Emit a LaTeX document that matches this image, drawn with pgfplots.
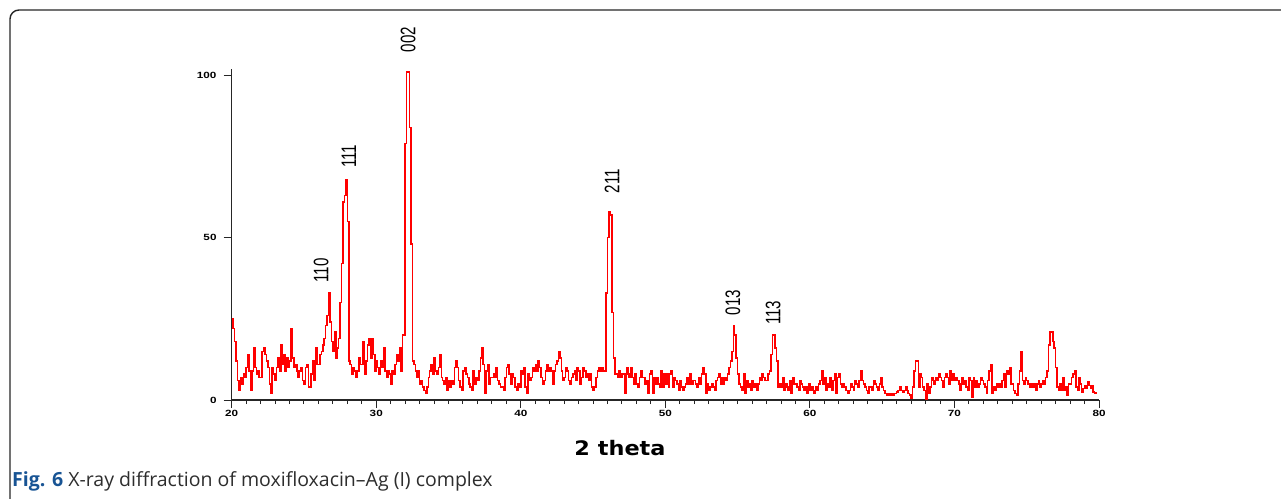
\documentclass[border=0pt]{standalone}
\usepackage{fontspec}
\usepackage{pgfplots}
\pgfplotsset{compat=1.18}
\newfontfamily\lsans{Liberation Sans}
\newfontfamily\osans{Open Sans}
\newfontfamily\dsans{DejaVu Sans}
\definecolor{figblue}{RGB}{24,84,148}
\definecolor{captext}{RGB}{45,45,45}

\begin{document}
\begin{tikzpicture}[x=1pt,y=1pt]
\useasboundingbox (0,0) rectangle (1281,498);
% figure frame
\draw[line width=1.4pt, rounded corners=9pt, black!85] (10,-10) -- (10,488) -- (1295,488);

\begin{axis}[
  at={(231.7pt,98pt)}, anchor=south west,
  scale only axis, width=867.3pt, height=331pt,
  xmin=20, xmax=80, ymin=0, ymax=102,
  axis x line*=bottom, axis y line*=left,
  axis line style={black!85, line width=1.2pt},
  xtick={20,30,...,80}, ytick={0,50,100},
  minor x tick num=9,
  tick align=outside,
  major tick length=8pt, minor tick length=4pt,
  every tick/.style={black!85, line width=1pt},
  /pgf/number format/assume math mode=true,
  tick label style={font=\lsans\bfseries\fontsize{9}{9}\selectfont},
  xticklabel style={xscale=1.3, yshift=1pt},
  yticklabel style={xscale=1.3, xshift=-2pt},
  clip=false,
]
\addplot[const plot, red, line width=1.5pt] coordinates {
(20.0,25)(20.1,22)(20.2,18)(20.3,12)(20.4,6)(20.5,3)(20.6,7)(20.7,5)(20.8,8)(20.9,7)
(21.0,10)(21.1,14)(21.2,9)(21.3,3)(21.4,9)(21.5,16)(21.6,10)(21.7,8)(21.8,9)(21.9,7)
(22.0,7)(22.1,15)(22.2,16)(22.3,14)(22.4,12)(22.5,10)(22.6,5)(22.7,2)(22.8,10)(22.9,8)
(23.0,6)(23.1,10)(23.2,13)(23.3,9)(23.4,17)(23.5,11)(23.6,14)(23.7,9)(23.8,13)(23.9,10)
(24.0,12)(24.1,22)(24.2,13)(24.3,10)(24.4,11)(24.5,9)(24.6,7)(24.7,9)(24.8,10)(24.9,6)
(25.0,5)(25.1,10)(25.2,11)(25.3,4)(25.4,4)(25.5,8)(25.6,12)(25.7,6)(25.8,16)(25.9,11)
(26.0,11)(26.1,14)(26.2,15)(26.3,17)(26.4,19)(26.5,23)(26.6,26)(26.7,33)(26.8,24)(26.9,18)
(27.0,15)(27.1,21)(27.2,13)(27.3,16)(27.4,19)(27.5,30)(27.6,42)(27.7,61)(27.8,63)(27.9,68)
(28.0,55)(28.1,12)(28.2,11)(28.3,8)(28.4,10)(28.5,9)(28.6,7)(28.7,9)(28.8,13)(28.9,11)
(29.0,11)(29.1,18)(29.2,8)(29.3,12)(29.4,17)(29.5,19)(29.6,13)(29.7,19)(29.8,14)(29.9,9)
(30.0,12)(30.1,10)(30.2,8)(30.3,12)(30.4,10)(30.5,16)(30.6,9)(30.7,7)(30.8,9)(30.9,8)
(31.0,5)(31.1,9)(31.2,8)(31.3,11)(31.4,14)(31.5,12)(31.6,16)(31.7,9)(31.8,20)(31.9,20)
(32.0,79)(32.1,101)(32.2,101)(32.3,84)(32.4,48)(32.5,12)(32.6,11)(32.7,9)(32.8,7)(32.9,9)
(33.0,5)(33.1,6)(33.2,4)(33.3,3)(33.4,2)(33.5,4)(33.6,7)(33.7,9)(33.8,11)(33.9,8)
(34.0,13)(34.1,9)(34.2,8)(34.3,10)(34.4,14)(34.5,7)(34.6,6)(34.7,5)(34.8,7)(34.9,3)
(35.0,6)(35.1,4)(35.2,6)(35.3,5)(35.4,10)(35.5,12)(35.6,10)(35.7,6)(35.8,4)(35.9,3)
(36.0,9)(36.1,10)(36.2,8)(36.3,7)(36.4,5)(36.5,4)(36.6,3)(36.7,9)(36.8,5)(36.9,7)
(37.0,6)(37.1,9)(37.2,13)(37.3,16)(37.4,11)(37.5,2)(37.6,9)(37.7,11)(37.8,5)(37.9,7)
(38.0,7)(38.1,8)(38.2,7)(38.3,10)(38.4,6)(38.5,5)(38.6,4)(38.7,4)(38.8,3)(38.9,7)
(39.0,10)(39.1,11)(39.2,8)(39.3,5)(39.4,8)(39.5,7)(39.6,4)(39.7,3)(39.8,5)(39.9,4)
(40.0,9)(40.1,8)(40.2,10)(40.3,4)(40.4,2)(40.5,8)(40.6,6)(40.7,7)(40.8,10)(40.9,9)
(41.0,11)(41.1,9)(41.2,12)(41.3,10)(41.4,7)(41.5,5)(41.6,6)(41.7,9)(41.8,11)(41.9,9)
(42.0,10)(42.1,9)(42.2,5)(42.3,9)(42.4,11)(42.5,12)(42.6,15)(42.7,13)(42.8,9)(42.9,6)
(43.0,7)(43.1,10)(43.2,9)(43.3,6)(43.4,5)(43.5,7)(43.6,8)(43.7,9)(43.8,6)(43.9,10)
(44.0,9)(44.1,5)(44.2,7)(44.3,10)(44.4,9)(44.5,7)(44.6,8)(44.7,6)(44.8,8)(44.9,4)
(45.0,3)(45.1,4)(45.2,7)(45.3,9)(45.4,10)(45.5,9)(45.6,10)(45.7,9)(45.8,9)(45.9,33)
(46.0,50)(46.1,58)(46.2,57)(46.3,27)(46.4,13)(46.5,8)(46.6,8)(46.7,7)(46.8,9)(46.9,7)
(47.0,8)(47.1,8)(47.2,2)(47.3,10)(47.4,8)(47.5,7)(47.6,10)(47.7,7)(47.8,5)(47.9,8)
(48.0,5)(48.1,4)(48.2,7)(48.3,9)(48.4,7)(48.5,7)(48.6,5)(48.7,6)(48.8,2)(48.9,8)
(49.0,9)(49.1,2)(49.2,7)(49.3,5)(49.4,7)(49.5,5)(49.6,4)(49.7,9)(49.8,4)(49.9,8)
(50.0,5)(50.1,8)(50.2,4)(50.3,8)(50.4,9)(50.5,4)(50.6,7)(50.7,6)(50.8,5)(50.9,3)
(51.0,6)(51.1,4)(51.2,3)(51.3,4)(51.4,5)(51.5,7)(51.6,5)(51.7,8)(51.8,5)(51.9,6)
(52.0,6)(52.1,5)(52.2,4)(52.3,7)(52.4,5)(52.5,8)(52.6,10)(52.7,8)(52.8,2)(52.9,5)
(53.0,3)(53.1,4)(53.2,5)(53.3,4)(53.4,3)(53.5,6)(53.6,7)(53.7,8)(53.8,5)(53.9,7)
(54.0,5)(54.1,7)(54.2,6)(54.3,8)(54.4,10)(54.5,12)(54.6,15)(54.7,23)(54.8,20)(54.9,13)
(55.0,8)(55.1,5)(55.2,4)(55.3,3)(55.4,8)(55.5,2)(55.6,6)(55.7,4)(55.8,5)(55.9,3)
(56.0,6)(56.1,4)(56.2,5)(56.3,3)(56.4,5)(56.5,7)(56.6,6)(56.7,8)(56.8,7)(56.9,6)
(57.0,6)(57.1,8)(57.2,9)(57.3,14)(57.4,20)(57.5,20)(57.6,16)(57.7,12)(57.8,4)(57.9,5)
(58.0,4)(58.1,7)(58.2,3)(58.3,5)(58.4,4)(58.5,3)(58.6,6)(58.7,2)(58.8,7)(58.9,5)
(59.0,5)(59.1,4)(59.2,3)(59.3,6)(59.4,5)(59.5,4)(59.6,3)(59.7,4)(59.8,2)(59.9,5)
(60.0,3)(60.1,4)(60.2,3)(60.3,2)(60.4,4)(60.5,3)(60.6,5)(60.7,6)(60.8,9)(60.9,5)
(61.0,7)(61.1,3)(61.2,5)(61.3,4)(61.4,7)(61.5,3)(61.6,6)(61.7,8)(61.8,2)(61.9,7)
(62.0,8)(62.1,5)(62.2,4)(62.3,5)(62.4,4)(62.5,3)(62.6,2)(62.7,3)(62.8,5)(62.9,4)
(63.0,3)(63.1,6)(63.2,5)(63.3,4)(63.4,6)(63.5,9)(63.6,6)(63.7,5)(63.8,4)(63.9,3)
(64.0,2)(64.1,4)(64.2,4)(64.3,3)(64.4,6)(64.5,5)(64.6,4)(64.7,3)(64.8,5)(64.9,7)
(65.0,4)(65.1,3)(65.2,2)(65.3,1.5)(65.4,2)(65.5,1.5)(65.6,2)(65.7,1.5)(65.8,2)(65.9,2)
(66.0,2.5)(66.1,3)(66.2,4)(66.3,3)(66.4,2.5)(66.5,3)(66.6,4)(66.7,3)(66.8,2)(66.9,1.5)
(67.0,0.5)(67.1,4)(67.2,9)(67.3,12)(67.4,12)(67.5,4)(67.6,8)(67.7,7)(67.8,4)(67.9,3)
(68.0,0.3)(68.1,5)(68.2,2)(68.3,4)(68.4,7)(68.5,6)(68.6,5)(68.7,7)(68.8,6)(68.9,8)
(69.0,7)(69.1,6)(69.2,4)(69.3,7)(69.4,8)(69.5,7)(69.6,5)(69.7,9)(69.8,6)(69.9,8)
(70.0,6)(70.1,7)(70.2,6)(70.3,5)(70.4,3)(70.5,7)(70.6,5)(70.7,6)(70.8,4)(70.9,3)
(71.0,7)(71.1,6)(71.2,1)(71.3,7)(71.4,4)(71.5,6)(71.6,4)(71.7,5)(71.8,7)(71.9,6)
(72.0,5)(72.1,4)(72.2,2)(72.3,6)(72.4,9)(72.5,11)(72.6,2)(72.7,4)(72.8,3)(72.9,5)
(73.0,4)(73.1,5)(73.2,4)(73.3,6)(73.4,8)(73.5,4)(73.6,9)(73.7,8)(73.8,10)(73.9,5)
(74.0,5)(74.1,3)(74.2,2)(74.3,1.5)(74.4,5)(74.5,9)(74.6,15)(74.7,6)(74.8,5)(74.9,7)
(75.0,6)(75.1,5)(75.2,4)(75.3,5)(75.4,4)(75.5,5)(75.6,3)(75.7,5)(75.8,6)(75.9,4)
(76.0,5)(76.1,6)(76.2,5)(76.3,7)(76.4,9)(76.5,17)(76.6,21)(76.7,21)(76.8,18)(76.9,16)
(77.0,10)(77.1,4)(77.2,3)(77.3,5)(77.4,3)(77.5,7)(77.6,3)(77.7,4)(77.8,1.5)(77.9,5)
(78.0,5)(78.1,7)(78.2,8)(78.3,9)(78.4,4)(78.5,3)(78.6,7)(78.7,5)(78.8,2.5)(78.9,3.5)
(79.0,4.5)(79.1,3.5)(79.2,5.5)(79.3,4.5)(79.4,3.5)(79.5,4.5)(79.6,2.4)(79.7,2)(79.8,2.5)
};
% reflection indices
\begin{scope}[every node/.style={rotate=90, xscale=0.72, font=\lsans\fontsize{21}{21}\selectfont, inner sep=0pt}]
\node at (axis cs:26.18,39.9) {110};
\node at (axis cs:28.11,75.1) {111};
\node at (axis cs:32.2,111) {002};
\node at (axis cs:46.31,67.4) {211};
\node at (axis cs:54.68,30.0) {013};
\node at (axis cs:57.45,26.9) {113};
\end{scope}
\end{axis}

\node[inner sep=0pt, xscale=1.12] at (620,50) {\dsans\bfseries\fontsize{20}{20}\selectfont 2 theta};
\node[anchor=base west, inner sep=0pt] at (12,12) {\osans\fontsize{19.5}{19.5}\selectfont{\bfseries\color{figblue}Fig. 6} \color{captext}X-ray diffraction of moxifloxacin–Ag (I) complex};
\end{tikzpicture}
\end{document}
